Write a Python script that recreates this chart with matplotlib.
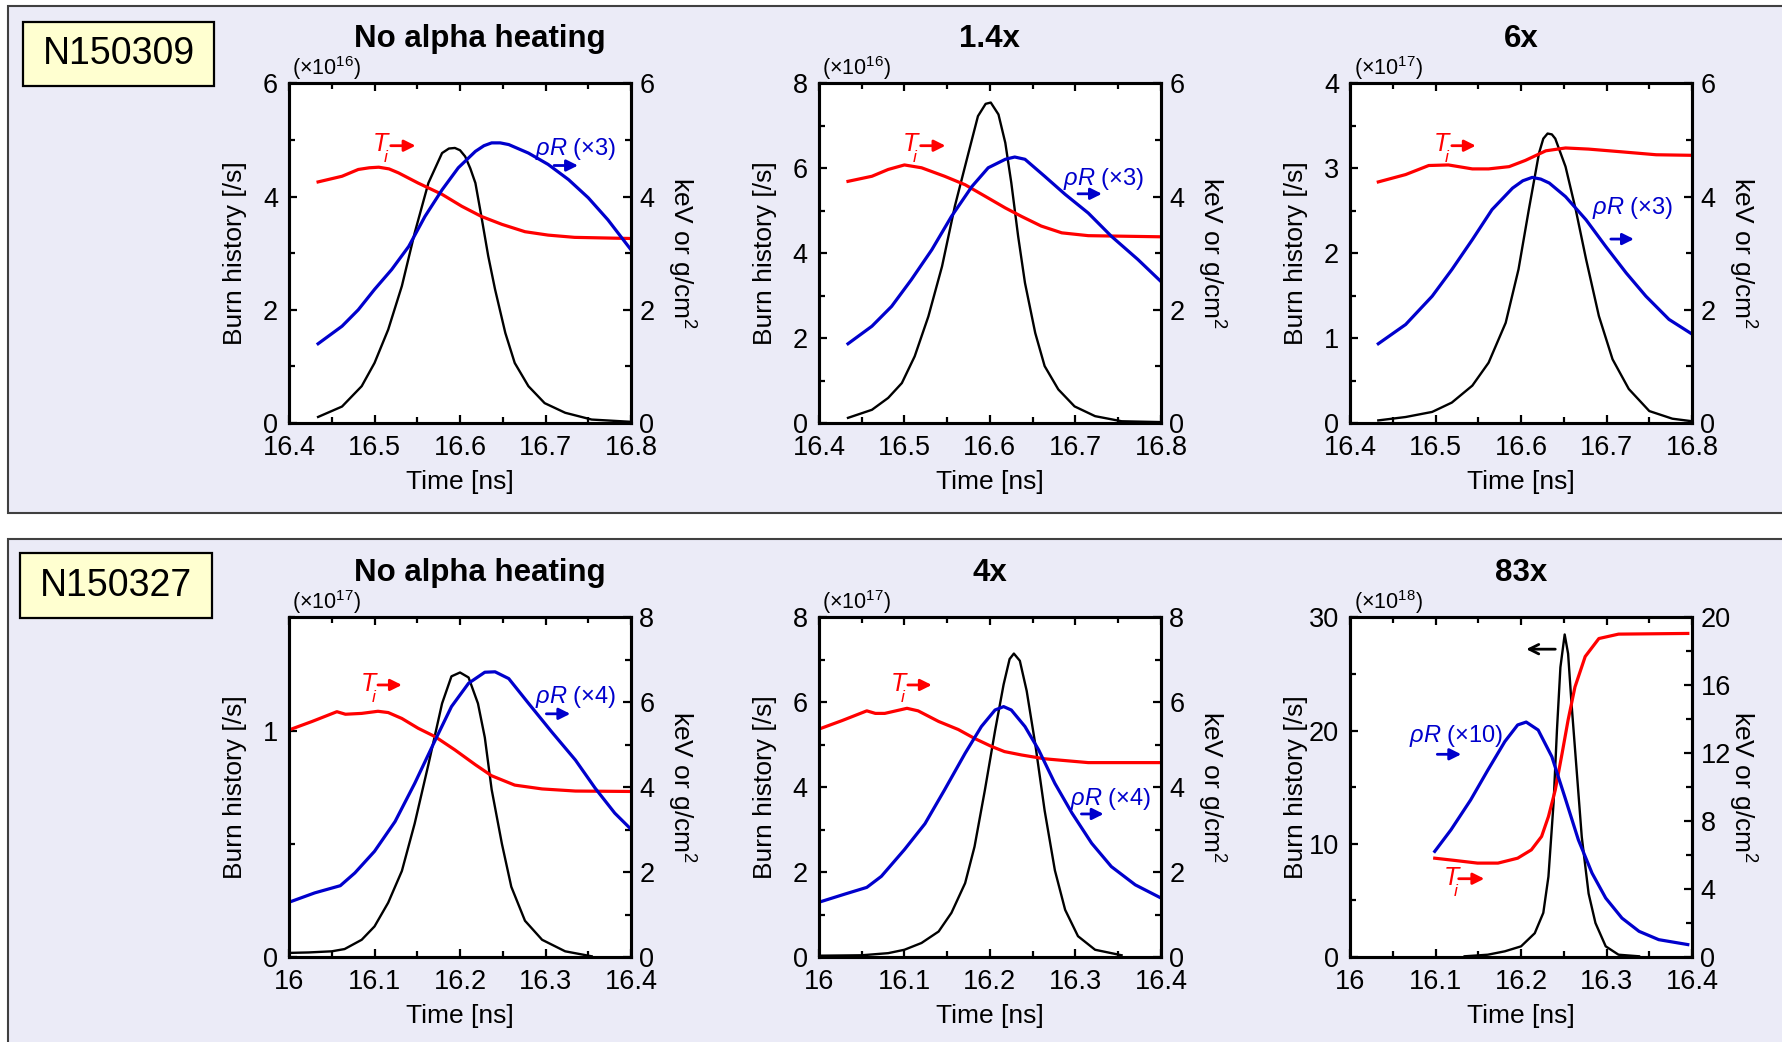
import matplotlib
matplotlib.use("Agg")
import matplotlib.pyplot as plt
from matplotlib.patches import Rectangle
from matplotlib.ticker import MultipleLocator, FuncFormatter

plt.rcParams['font.family'] = ['Liberation Sans', 'DejaVu Sans']
plt.rcParams['mathtext.fontset'] = 'custom'
plt.rcParams['mathtext.rm'] = 'Liberation Sans'
plt.rcParams['mathtext.it'] = 'Liberation Sans:italic'
plt.rcParams['mathtext.bf'] = 'Liberation Sans:bold'

RED = '#ff0000'
BLUE = '#0000cc'

# ---- N150309, no alpha heating ----
p1_t_burn = [16.434, 16.462, 16.485, 16.5, 16.516, 16.532, 16.547, 16.563, 16.579, 16.587, 16.594, 16.600, 16.606,
             16.612, 16.618, 16.625, 16.633, 16.641, 16.653, 16.664, 16.68, 16.699, 16.723, 16.754, 16.8]
p1_burn = [0.106, 0.29, 0.65, 1.06, 1.65, 2.42, 3.36, 4.24, 4.77, 4.85, 4.86, 4.82, 4.71,
           4.50, 4.24, 3.65, 2.95, 2.36, 1.59, 1.06, 0.65, 0.35, 0.18, 0.06, 0.02]
p1_t_ti = [16.434, 16.462, 16.481, 16.494, 16.505, 16.517, 16.528, 16.551, 16.579, 16.602, 16.625, 16.649,
           16.676, 16.703, 16.734, 16.8]
p1_ti = [4.26, 4.36, 4.48, 4.51, 4.52, 4.49, 4.42, 4.24, 4.04, 3.83, 3.65, 3.51, 3.38, 3.32, 3.28, 3.26]
p1_t_rr = [16.434, 16.462, 16.481, 16.5, 16.52, 16.54, 16.559, 16.579, 16.598, 16.618, 16.628, 16.637, 16.647,
           16.657, 16.68, 16.703, 16.727, 16.75, 16.773, 16.8]
p1_rr = [1.40, 1.71, 2.00, 2.36, 2.71, 3.12, 3.65, 4.12, 4.51, 4.80, 4.90, 4.95, 4.95, 4.92, 4.77, 4.57,
         4.30, 3.98, 3.59, 3.06]

# ---- N150309, 1.4x ----
p2_t_burn = [16.434, 16.462, 16.481, 16.497, 16.512, 16.528, 16.544, 16.559, 16.575, 16.586, 16.595, 16.601,
             16.61, 16.618, 16.625, 16.633, 16.641, 16.653, 16.664, 16.68, 16.699, 16.723, 16.754, 16.8]
p2_burn = [0.12, 0.31, 0.59, 0.94, 1.57, 2.51, 3.69, 5.11, 6.37, 7.23, 7.52, 7.55,
           7.27, 6.6, 5.66, 4.40, 3.30, 2.12, 1.34, 0.79, 0.39, 0.16, 0.04, 0.02]
p2_t_ti = [16.434, 16.462, 16.481, 16.5, 16.52, 16.547, 16.571, 16.594, 16.618, 16.637, 16.66, 16.684, 16.715, 16.8]
p2_ti = [4.27, 4.36, 4.48, 4.56, 4.51, 4.36, 4.21, 4.01, 3.80, 3.65, 3.48, 3.36, 3.31, 3.29]
p2_t_rr = [16.434, 16.462, 16.485, 16.508, 16.532, 16.555, 16.579, 16.598, 16.618, 16.629, 16.641,
           16.664, 16.688, 16.715, 16.742, 16.773, 16.8]
p2_rr = [1.40, 1.71, 2.06, 2.53, 3.06, 3.65, 4.18, 4.51, 4.66, 4.70, 4.66, 4.36, 4.04, 3.71, 3.30, 2.89, 2.50]

# ---- N150309, 6x ----
p3_t_burn = [16.433, 16.465, 16.496, 16.519, 16.543, 16.562, 16.582, 16.597, 16.609, 16.621, 16.626, 16.631,
             16.636, 16.64, 16.652, 16.664, 16.676, 16.691, 16.707, 16.726, 16.75, 16.777, 16.8]
p3_burn = [0.03, 0.07, 0.13, 0.24, 0.44, 0.71, 1.18, 1.81, 2.51, 3.18, 3.35, 3.41,
           3.40, 3.35, 3.02, 2.51, 1.93, 1.26, 0.75, 0.40, 0.14, 0.05, 0.02]
p3_t_ti = [16.433, 16.465, 16.492, 16.515, 16.543, 16.562, 16.586, 16.605, 16.629, 16.652, 16.679, 16.719, 16.758, 16.8]
p3_ti = [4.26, 4.39, 4.55, 4.56, 4.49, 4.49, 4.53, 4.64, 4.81, 4.86, 4.84, 4.79, 4.74, 4.73]
p3_t_rr = [16.433, 16.465, 16.496, 16.519, 16.543, 16.566, 16.59, 16.602, 16.613, 16.623, 16.633, 16.652,
           16.676, 16.699, 16.723, 16.746, 16.773, 16.8]
p3_rr = [1.40, 1.74, 2.24, 2.71, 3.24, 3.77, 4.15, 4.28, 4.34, 4.31, 4.24, 4.00, 3.59, 3.12, 2.65, 2.24, 1.83, 1.57]

# ---- N150327, no alpha heating ----
p4_t_burn = [16.0, 16.023, 16.05, 16.065, 16.085, 16.1, 16.116, 16.132, 16.147, 16.163, 16.179, 16.19,
             16.2, 16.21, 16.221, 16.229, 16.237, 16.249, 16.26, 16.276, 16.296, 16.323, 16.354]
p4_burn = [0.018, 0.02, 0.025, 0.035, 0.076, 0.135, 0.24, 0.38, 0.59, 0.85, 1.12, 1.24,
           1.257, 1.235, 1.12, 0.97, 0.74, 0.50, 0.31, 0.16, 0.076, 0.025, 0.003]
p4_t_ti = [16.0, 16.027, 16.056, 16.066, 16.085, 16.104, 16.116, 16.132, 16.151, 16.171, 16.194,
           16.218, 16.237, 16.264, 16.296, 16.335, 16.4]
p4_ti = [5.35, 5.55, 5.78, 5.72, 5.74, 5.79, 5.76, 5.62, 5.39, 5.19, 4.88, 4.53, 4.27, 4.05, 3.96, 3.91, 3.90]
p4_t_rr = [16.0, 16.03, 16.06, 16.077, 16.1, 16.124, 16.147, 16.171, 16.19, 16.21, 16.229, 16.241,
           16.257, 16.28, 16.307, 16.335, 16.358, 16.381, 16.4]
p4_rr = [1.29, 1.51, 1.68, 1.98, 2.49, 3.19, 4.09, 5.11, 5.90, 6.45, 6.71, 6.72, 6.56, 5.98, 5.31, 4.64, 3.98, 3.39, 3.01]

# ---- N150327, 4x ----
p5_t_burn = [16.0, 16.05, 16.081, 16.1, 16.12, 16.14, 16.155, 16.171, 16.182, 16.194, 16.206, 16.216,
             16.223, 16.228, 16.235, 16.243, 16.253, 16.264, 16.276, 16.288, 16.303, 16.323, 16.354]
p5_burn = [0.03, 0.04, 0.09, 0.17, 0.33, 0.60, 1.04, 1.74, 2.6, 3.92, 5.33, 6.42,
           7.02, 7.15, 6.98, 6.27, 5.02, 3.45, 2.04, 1.11, 0.49, 0.17, 0.04]
p5_t_ti = [16.0, 16.027, 16.056, 16.066, 16.077, 16.103, 16.116, 16.14, 16.163, 16.182, 16.202,
           16.217, 16.237, 16.264, 16.315, 16.4]
p5_ti = [5.37, 5.57, 5.80, 5.74, 5.74, 5.86, 5.80, 5.55, 5.36, 5.15, 4.96, 4.84, 4.76, 4.67, 4.58, 4.58]
p5_t_rr = [16.0, 16.03, 16.056, 16.073, 16.1, 16.124, 16.147, 16.171, 16.19, 16.206, 16.216, 16.225,
           16.241, 16.257, 16.276, 16.296, 16.319, 16.342, 16.37, 16.4]
p5_rr = [1.29, 1.48, 1.64, 1.90, 2.53, 3.14, 3.94, 4.80, 5.43, 5.82, 5.90, 5.82, 5.43, 4.88, 4.09,
         3.39, 2.68, 2.13, 1.70, 1.39]

# ---- N150327, 83x ----
p6_t_burn = [16.134, 16.161, 16.181, 16.2, 16.216, 16.226, 16.232, 16.238, 16.242, 16.246, 16.251,
             16.255, 16.259, 16.265, 16.271, 16.279, 16.287, 16.299, 16.314, 16.338]
p6_burn = [0.06, 0.2, 0.5, 0.94, 2.1, 3.9, 7.1, 13.6, 20.1, 25.6, 28.5,
           26.8, 22.4, 16.5, 10.6, 5.6, 3.0, 0.94, 0.2, 0.06]
p6_t_ti = [16.099, 16.122, 16.149, 16.173, 16.196, 16.212, 16.224, 16.232, 16.24, 16.248, 16.255,
           16.263, 16.275, 16.291, 16.314, 16.395]
p6_ti = [5.82, 5.69, 5.53, 5.53, 5.82, 6.31, 7.1, 8.27, 9.84, 12.0, 13.96, 15.9, 17.7, 18.76, 19.02, 19.06]
p6_t_rr = [16.099, 16.118, 16.141, 16.161, 16.181, 16.196, 16.206, 16.22, 16.236, 16.251, 16.267,
           16.283, 16.299, 16.318, 16.338, 16.361, 16.395]
p6_rr = [6.22, 7.49, 9.25, 11.0, 12.69, 13.67, 13.84, 13.37, 11.8, 9.45, 6.9, 4.94, 3.47, 2.29, 1.51, 1.02, 0.73]

titles = ['No alpha heating', '1.4x', '6x', 'No alpha heating', '4x', '83x']
shots = ['N150309', 'N150327']
exponents = [16, 16, 17, 17, 17, 18]

fig = plt.figure(figsize=(17.83, 10.42), dpi=100)
fig.patch.set_facecolor('white')

# framed background panels
for y0, h in [(0.5077, 0.4865), (-0.02, 0.5027)]:
    fig.add_artist(Rectangle((0.0045, y0), 1.0, h, transform=fig.transFigure,
                             facecolor='#ebebf7', edgecolor='#404040', lw=1.5, zorder=0))
for (x0, y0, w, h), s in zip([(0.0129, 0.9175, 0.1071, 0.0614), (0.0112, 0.4069, 0.1077, 0.0623)], shots):
    fig.add_artist(Rectangle((x0, y0), w, h, transform=fig.transFigure,
                             facecolor='#ffffd0', edgecolor='black', lw=1.6, zorder=1))
    fig.text(x0 + w / 2, y0 + h / 2, s, fontsize=27, ha='center', va='center', zorder=2)

lefts = [0.1621, 0.4593, 0.7572]
bottoms = [0.5941, 0.0816]
W, H = 0.1918, 0.3258


def fmt(v, p):
    return ('%.1f' % v).rstrip('0').rstrip('.')


def panel(ax, xlim, ylim_l, ylim_r, maj_l, min_l, maj_r, min_r, exp, title, tx=0.5):
    ax2 = ax.twinx()
    ax.set_xlim(*xlim)
    ax.set_ylim(*ylim_l)
    ax2.set_ylim(*ylim_r)
    ax.xaxis.set_major_locator(MultipleLocator(0.1))
    ax.xaxis.set_minor_locator(MultipleLocator(0.05))
    ax.yaxis.set_major_locator(MultipleLocator(maj_l))
    ax.yaxis.set_minor_locator(MultipleLocator(min_l))
    ax2.yaxis.set_major_locator(MultipleLocator(maj_r))
    ax2.yaxis.set_minor_locator(MultipleLocator(min_r))
    ax.xaxis.set_major_formatter(FuncFormatter(fmt))
    ax.tick_params(which='both', direction='in', top=True, right=False, width=1.6, labelsize=19.5)
    ax.tick_params(which='major', length=6)
    ax.tick_params(which='minor', length=4.5)
    ax.tick_params(axis='x', pad=9)
    ax.tick_params(axis='y', pad=8)
    ax2.tick_params(which='both', direction='in', width=1.6, labelsize=19.5, pad=6)
    ax2.tick_params(which='major', length=6)
    ax2.tick_params(which='minor', length=4.5)
    for a in (ax, ax2):
        for sp in a.spines.values():
            sp.set_linewidth(2.2)
    ax.set_xlabel('Time [ns]', fontsize=19, labelpad=6)
    ax.set_ylabel('Burn history [/s]', fontsize=19)
    ax.yaxis.set_label_coords(-0.123, 0.5)
    ax2.set_ylabel('keV or g/cm$^2$', fontsize=19, rotation=270, va='bottom')
    ax2.yaxis.set_label_coords(1.10, 0.5)
    ax.text(0.01, 1.004, '(×10$^{%d}$)' % exp, transform=ax.transAxes, fontsize=15.5, ha='left', va='bottom')
    ax.text(tx, 1.13, title, transform=ax.transAxes, fontsize=22.5, fontweight='bold', ha='center', va='center')
    return ax2


def arrow(a, x0, x1, y, color, style='-|>'):
    a.annotate('', xy=(x1, y), xytext=(x0, y),
               arrowprops=dict(arrowstyle=style, color=color, lw=2, mutation_scale=17, shrinkA=0, shrinkB=0))


def ti_label(a, x, y):
    a.text(x, y, 'T', color=RED, fontsize=18, style='italic', ha='left', va='baseline')
    a.annotate('i', xy=(x, y), xytext=(7.5, -8), textcoords='offset points', color=RED,
               fontsize=12.5, style='italic', ha='left', va='baseline')


axes = []
for r in range(2):
    for c in range(3):
        axes.append(fig.add_axes([lefts[c], bottoms[r], W, H]))

# panel 1
ax = axes[0]
a2 = panel(ax, (16.4, 16.8), (0, 6), (0, 6), 2, 1, 2, 1, exponents[0], titles[0], tx=0.558)
ax.plot(p1_t_burn, p1_burn, color='black', lw=1.7)
a2.plot(p1_t_ti, p1_ti, color=RED, lw=2.3)
a2.plot(p1_t_rr, p1_rr, color=BLUE, lw=2.3)
ti_label(a2, 16.498, 4.81)
arrow(a2, 16.519, 16.548, 4.90, RED)
a2.text(16.688, 4.73, r'$\rho R$ (×3)', color=BLUE, fontsize=17)
arrow(a2, 16.710, 16.738, 4.55, BLUE)

# panel 2
ax = axes[1]
a2 = panel(ax, (16.4, 16.8), (0, 8), (0, 6), 2, 1, 2, 1, exponents[1], titles[1])
ax.plot(p2_t_burn, p2_burn, color='black', lw=1.7)
a2.plot(p2_t_ti, p2_ti, color=RED, lw=2.3)
a2.plot(p2_t_rr, p2_rr, color=BLUE, lw=2.3)
ti_label(a2, 16.498, 4.81)
arrow(a2, 16.519, 16.548, 4.90, RED)
a2.text(16.686, 4.21, r'$\rho R$ (×3)', color=BLUE, fontsize=17)
arrow(a2, 16.703, 16.731, 4.05, BLUE)

# panel 3
ax = axes[2]
a2 = panel(ax, (16.4, 16.8), (0, 4), (0, 6), 1, 0.5, 2, 1, exponents[2], titles[2])
ax.plot(p3_t_burn, p3_burn, color='black', lw=1.7)
a2.plot(p3_t_ti, p3_ti, color=RED, lw=2.3)
a2.plot(p3_t_rr, p3_rr, color=BLUE, lw=2.3)
ti_label(a2, 16.498, 4.81)
arrow(a2, 16.519, 16.547, 4.90, RED)
a2.text(16.683, 3.70, r'$\rho R$ (×3)', color=BLUE, fontsize=17)
arrow(a2, 16.705, 16.732, 3.25, BLUE)

# panel 4
ax = axes[3]
a2 = panel(ax, (16.0, 16.4), (0, 1.5), (0, 8), 1, 0.5, 2, 1, exponents[3], titles[3], tx=0.558)
ax.plot(p4_t_burn, p4_burn, color='black', lw=1.7)
a2.plot(p4_t_ti, p4_ti, color=RED, lw=2.3)
a2.plot(p4_t_rr, p4_rr, color=BLUE, lw=2.3)
ti_label(a2, 16.084, 6.27)
arrow(a2, 16.104, 16.132, 6.41, RED)
a2.text(16.288, 5.98, r'$\rho R$ (×4)', color=BLUE, fontsize=17)
arrow(a2, 16.301, 16.329, 5.73, BLUE)

# panel 5
ax = axes[4]
a2 = panel(ax, (16.0, 16.4), (0, 8), (0, 8), 2, 1, 2, 1, exponents[4], titles[4])
ax.plot(p5_t_burn, p5_burn, color='black', lw=1.7)
a2.plot(p5_t_ti, p5_ti, color=RED, lw=2.3)
a2.plot(p5_t_rr, p5_rr, color=BLUE, lw=2.3)
ti_label(a2, 16.084, 6.27)
arrow(a2, 16.104, 16.132, 6.41, RED)
a2.text(16.294, 3.58, r'$\rho R$ (×4)', color=BLUE, fontsize=17)
arrow(a2, 16.307, 16.333, 3.37, BLUE)

# panel 6
ax = axes[5]
a2 = panel(ax, (16.0, 16.4), (0, 30), (0, 20), 10, 5, 4, 2, exponents[5], titles[5])
ax.plot(p6_t_burn, p6_burn, color='black', lw=1.7)
a2.plot(p6_t_ti, p6_ti, color=RED, lw=2.3)
a2.plot(p6_t_rr, p6_rr, color=BLUE, lw=2.3)
a2.text(16.069, 12.69, r'$\rho R$ (×10)', color=BLUE, fontsize=17)
arrow(a2, 16.102, 16.130, 11.94, BLUE)
ti_label(a2, 16.109, 4.25)
arrow(a2, 16.127, 16.157, 4.61, RED)
arrow(ax, 16.240, 16.206, 27.2, 'black', style='->')

fig.savefig('out.png', dpi=100, facecolor='white')
